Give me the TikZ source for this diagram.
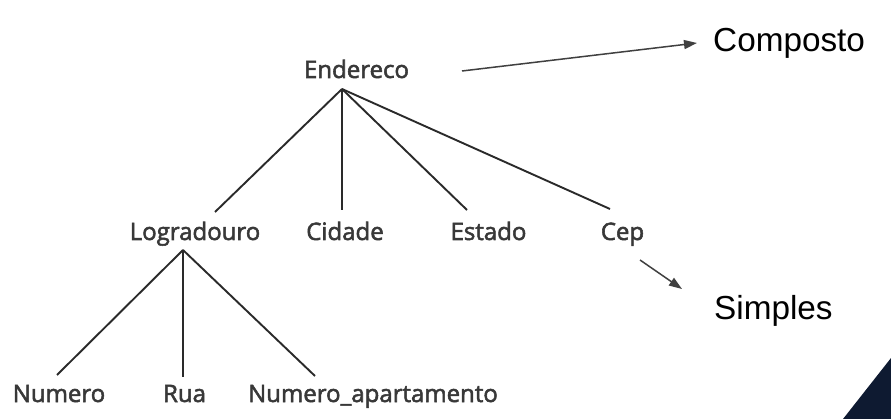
\documentclass[tikz,border=0pt]{standalone}
\usepackage{fontspec}
\setmainfont{Open Sans}
\newfontfamily\treefont{Open Sans}[FakeBold=2.2]
\newfontfamily\arialfont{Liberation Sans}
\usetikzlibrary{arrows.meta}
\definecolor{treetext}{HTML}{383838}
\definecolor{treeline}{HTML}{2A2A2A}
\definecolor{arrowgray}{HTML}{404040}
\definecolor{navy}{HTML}{0E1A31}
\begin{document}
\begin{tikzpicture}[x=1pt,y=-1pt,
  attr/.style={anchor=base,inner sep=0pt,text=treetext,font=\treefont\fontsize{24}{28}\selectfont},
  note/.style={anchor=base west,inner sep=0pt,text=black,font=\arialfont\fontsize{33.3}{38}\selectfont},
  edge/.style={draw=treeline,line width=1.9pt},
  pointer/.style={draw=arrowgray,line width=1.5pt,-{Triangle[length=13pt,width=9pt]}}]
\useasboundingbox (0,0) rectangle (891,419);
\fill[white] (0,0) rectangle (891,419);
\fill[navy] (843,419) -- (891,358) -- (891,419) -- cycle;
% tree nodes
\node[attr] (end) at (356.5,78) {Endereco};
\node[attr] (log) at (195,240) {Logradouro};
\node[attr] (cid) at (345,240) {Cidade};
\node[attr] (est) at (488.5,240) {Estado};
\node[attr] (cep) at (622.5,240) {Cep};
\node[attr] (num) at (59,402) {Numero};
\node[attr] (rua) at (184.5,402) {Rua};
\node[attr] (apt) at (373,402) {Numero\_apartamento};
% connector points
\coordinate (endroot) at (342,89);
\coordinate (logroot) at (183,250);
\coordinate (logtop) at (215,212);
\coordinate (cidtop) at (342,210);
\coordinate (esttop) at (467,210);
\coordinate (ceptop) at (610,209);
\coordinate (numtop) at (57,375);
\coordinate (ruatop) at (183,377);
\coordinate (apttop) at (315,376);
\draw[edge] (endroot) -- (logtop);
\draw[edge] (endroot) -- (cidtop);
\draw[edge] (endroot) -- (esttop);
\draw[edge] (endroot) -- (ceptop);
\draw[edge] (logroot) -- (numtop);
\draw[edge] (logroot) -- (ruatop);
\draw[edge] (logroot) -- (apttop);
% notes
\node[note] (comp) at (713,52) {Composto};
\node[note] (simp) at (714,320) {Simples};
\coordinate (compfrom) at (462,71);
\coordinate (compto) at (697,43);
\coordinate (simpfrom) at (640,260);
\coordinate (simpto) at (682,289);
\draw[pointer] (compfrom) -- (compto);
\draw[pointer] (simpfrom) -- (simpto);
\end{tikzpicture}
\end{document}
